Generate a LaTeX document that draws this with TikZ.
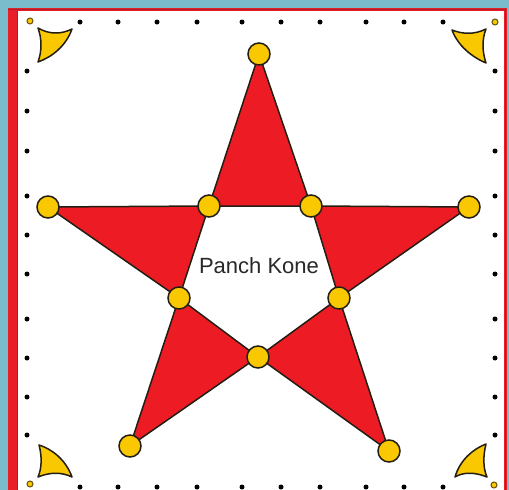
\documentclass[tikz,border=0pt]{standalone}
\usepackage{fontspec}
\setmainfont{Liberation Sans}
\definecolor{bgblue}{RGB}{122,188,204}
\definecolor{starred}{RGB}{237,28,36}
\definecolor{bandred}{RGB}{232,30,40}
\definecolor{darkred}{RGB}{170,30,40}
\definecolor{gold}{RGB}{250,200,0}
\definecolor{outline}{RGB}{35,30,20}
\definecolor{textgray}{RGB}{40,40,40}
\tikzset{
  pointdisc/.style={circle, draw=outline, line width=1.5pt, fill=gold, minimum size=22pt, inner sep=0pt},
  cornerdisc/.style={circle, draw=outline!70!gold, line width=1pt, fill=gold, minimum size=6pt, inner sep=0pt},
  rimdot/.style={circle, fill=black, minimum size=5pt, inner sep=0pt},
  starpart/.style={fill=starred, draw=outline, line width=1.5pt, line join=round},
  fin/.style={fill=gold, draw=outline, line width=1.5pt, line join=round}
}
\begin{document}
\begin{tikzpicture}[x=1pt,y=-1pt]
\useasboundingbox (0,0) rectangle (509,490);
\fill[bgblue] (0,0) rectangle (509,490);
\fill[white] (8,8) rectangle (506,490);
\fill[bandred] (8,8) rectangle (17,490);
\draw[darkred, line width=1pt] (17.5,10) -- (17.5,490);
\draw[bandred, line width=2.6pt] (8,9.3) -- (505.3,9.3) -- (505.3,490);
\draw[darkred, line width=0.8pt] (8,9.3) -- (505.3,9.3) -- (505.3,490);

% star points
\coordinate (T) at (259,54);
\coordinate (L) at (48,207);
\coordinate (R) at (469,207);
\coordinate (BL) at (130,446);
\coordinate (BR) at (389,451);
\coordinate (IA) at (209,206);
\coordinate (IB) at (311,206);
\coordinate (IC) at (179,298);
\coordinate (ID) at (339,298);
\coordinate (IE) at (258,357);

\filldraw[starpart] (T) -- (IA) -- (IB) -- cycle;
\filldraw[starpart] (L) -- (IA) -- (IC) -- cycle;
\filldraw[starpart] (R) -- (IB) -- (ID) -- cycle;
\filldraw[starpart] (BL) -- (IC) -- (IE) -- cycle;
\filldraw[starpart] (BR) -- (ID) -- (IE) -- cycle;

\foreach \p in {T,L,R,BL,BR,IA,IB,IC,ID,IE}
  \node[pointdisc] (disc\p) at (\p) {};

\node[font=\fontsize{22}{26}\selectfont, text=textgray, anchor=base, inner sep=0pt] (label) at (259,273) {Panch Kone};

% rim dots
\foreach \x [count=\i] in {80,118,157,197,242,281,320,366,404,443} {
  \node[rimdot] (top\i) at (\x,22) {};
  \node[rimdot] (bot\i) at (\x,487) {};
}
\foreach \y [count=\i] in {71,111,151,196,235,274,319,358,397,435} {
  \node[rimdot] (left\i) at (27,\y) {};
  \node[rimdot] (right\i) at (495,\y) {};
}

% corner discs
\node[cornerdisc] (ctl) at (30,21) {};
\node[cornerdisc] (ctr) at (495,22) {};
\node[cornerdisc] (cbl) at (30,484) {};
\node[cornerdisc] (cbr) at (494,485) {};

% corner fins
\filldraw[fin] (38,28) .. controls (50,35) and (62,34) .. (72,29)
  .. controls (66,46) and (52,57) .. (38,62)
  .. controls (42,51) and (42,39) .. cycle;
\filldraw[fin] (486,29) .. controls (474,35) and (462,34) .. (452,30)
  .. controls (458,46) and (472,57) .. (486,63)
  .. controls (482,51) and (482,39) .. cycle;
\filldraw[fin] (38,477) .. controls (50,472) and (62,472) .. (72,477)
  .. controls (66,460) and (52,449) .. (39,445)
  .. controls (42,456) and (42,468) .. cycle;
\filldraw[fin] (487,477) .. controls (475,472) and (463,472) .. (455,477)
  .. controls (460,460) and (473,449) .. (486,444)
  .. controls (483,456) and (483,468) .. cycle;
\end{tikzpicture}
\end{document}
